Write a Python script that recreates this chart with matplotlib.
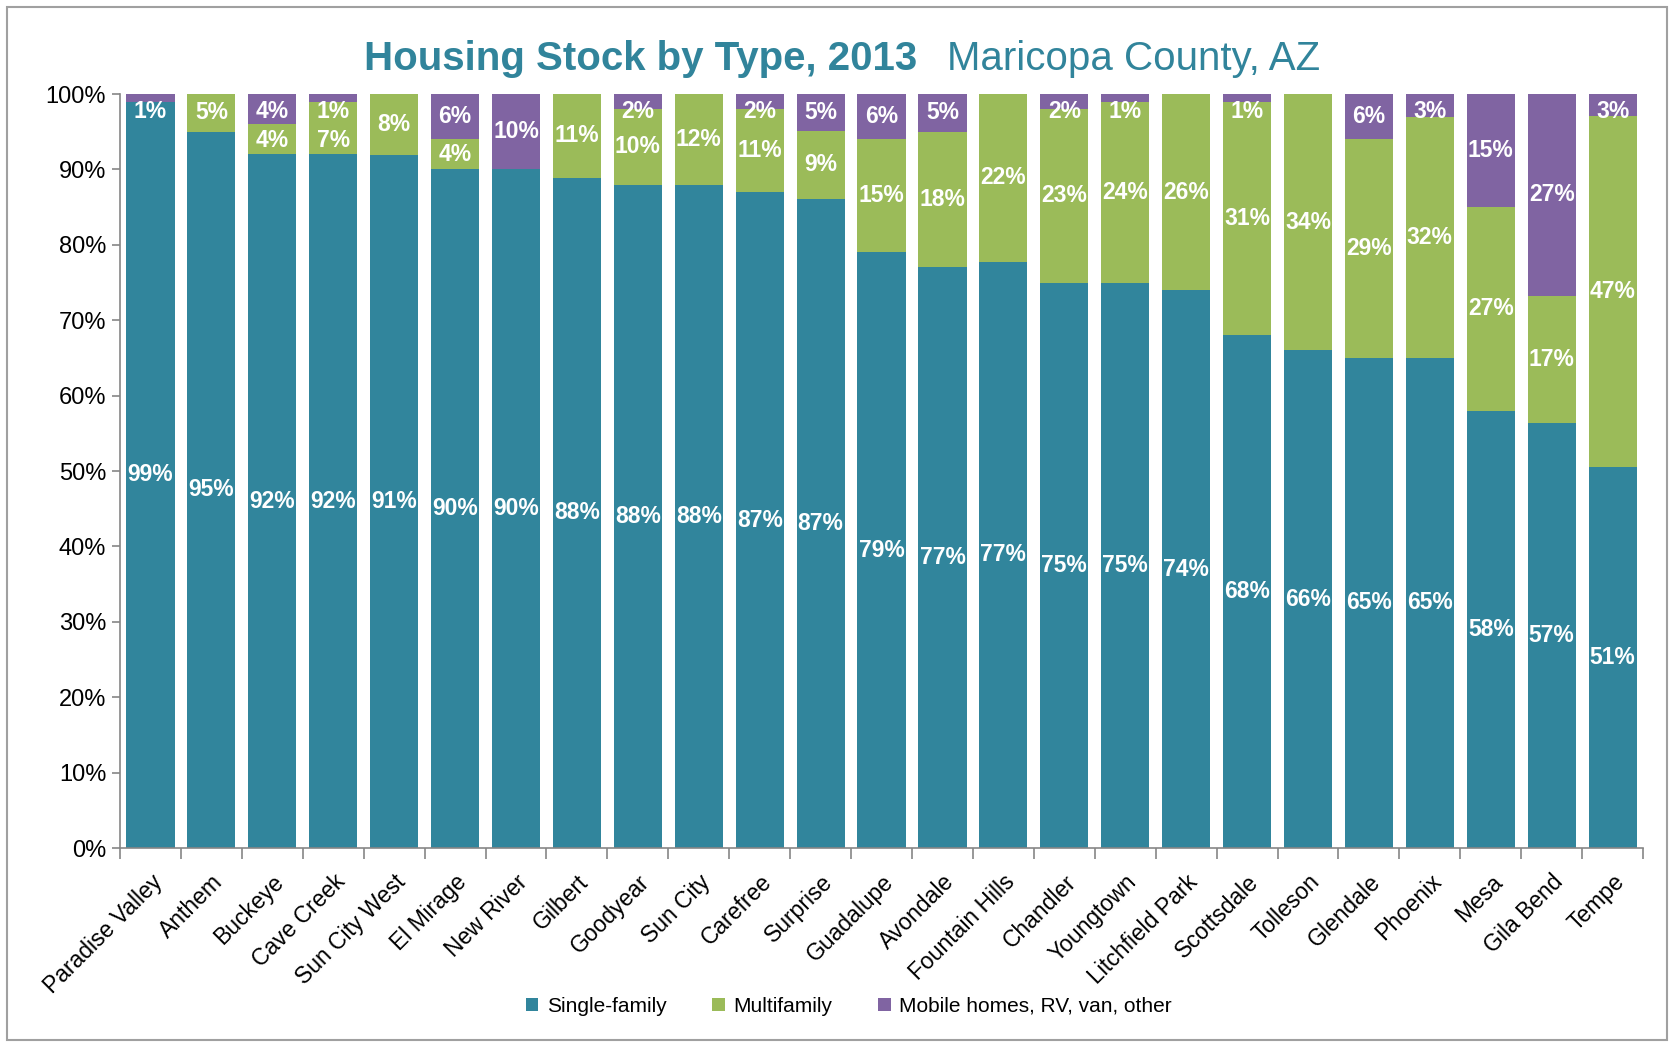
import numpy as np
import matplotlib
matplotlib.use("Agg")
import matplotlib.pyplot as plt
from matplotlib.patches import Rectangle, Patch
from matplotlib import font_manager

# ---- data (shares as shown in the data labels, %) --------------------------
places = ["Paradise Valley", "Anthem", "Buckeye", "Cave Creek", "Sun City West",
          "El Mirage", "New River", "Gilbert", "Goodyear", "Sun City", "Carefree",
          "Surprise", "Guadalupe", "Avondale", "Fountain Hills", "Chandler",
          "Youngtown", "Litchfield Park", "Scottsdale", "Tolleson", "Glendale",
          "Phoenix", "Mesa", "Gila Bend", "Tempe"]
single_family = [99, 95, 92, 92, 91, 90, 90, 88, 88, 88, 87, 87, 79, 77, 77,
                 75, 75, 74, 68, 66, 65, 65, 58, 57, 51]
multifamily = [0, 5, 4, 7, 8, 4, 0, 11, 10, 12, 11, 9, 15, 18, 22,
               23, 24, 26, 31, 34, 29, 32, 27, 17, 47]
mobile_other = [1, 0, 4, 1, 0, 6, 10, 0, 2, 0, 2, 5, 6, 5, 0,
                2, 1, 0, 1, 0, 6, 3, 15, 27, 3]
series_names = ["Single-family", "Multifamily", "Mobile homes, RV, van, other"]

TEAL = "#31859C"
GREEN = "#9BBB59"
PURPLE = "#8064A2"
TITLE_COLOR = "#31849B"
AXIS_GRAY = "#868686"

installed = {f.name for f in font_manager.fontManager.ttflist}
NARROW = "Liberation Sans Narrow" if "Liberation Sans Narrow" in installed else "Liberation Sans"
plt.rcParams["font.family"] = ["Liberation Sans", "DejaVu Sans"]

# 100% stacked: normalise each column
raw = np.array([single_family, multifamily, mobile_other], dtype=float)
shares = raw / raw.sum(axis=0) * 100

fig = plt.figure(figsize=(16.74, 10.45), dpi=100)
ax = fig.add_axes([0.0717, 0.1885, 0.9098, 0.7215])

x = np.arange(len(places))
bottoms = np.vstack([np.zeros(len(places)), np.cumsum(shares, axis=0)[:-1]])

# label positions, worked from the top segment down so thin segments
# don't get labels stacked on top of each other
label_y = np.full(raw.shape, np.nan)
for j in range(len(places)):
    limit = 97.7
    for i in range(raw.shape[0] - 1, -1, -1):
        if raw[i, j] == 0:
            continue
        y = min(bottoms[i, j] + shares[i, j] / 2, limit)
        label_y[i, j] = y
        limit = y - 3.9

for i, color in enumerate([TEAL, GREEN, PURPLE]):
    ax.bar(x, shares[i], bottom=bottoms[i], width=0.79, color=color, linewidth=0)
    for j in range(len(places)):
        if raw[i, j] == 0:
            continue
        ax.text(x[j], label_y[i, j], f"{int(raw[i, j])}%", ha="center", va="center",
                color="white", fontsize=16.5, fontweight="bold")

ax.set_xlim(-0.5, len(places) - 0.5)
ax.set_ylim(0, 100)
ax.set_yticks(np.arange(0, 101, 10))
ax.set_yticklabels([f"{v}%" for v in range(0, 101, 10)], fontsize=17)
ax.set_xticks(x)
ax.set_xticklabels(places, rotation=45, ha="right", rotation_mode="anchor",
                   fontsize=16.5)
ax.set_xticks(np.arange(-0.5, len(places)), minor=True)
ax.tick_params(axis="x", which="major", length=0, pad=16)
ax.tick_params(axis="x", which="minor", length=8, color=AXIS_GRAY, width=1.2)
ax.tick_params(axis="y", length=6, color=AXIS_GRAY, width=1.2, pad=4)
for s in ["top", "right"]:
    ax.spines[s].set_visible(False)
for s in ["left", "bottom"]:
    ax.spines[s].set_color(AXIS_GRAY)
    ax.spines[s].set_linewidth(1.2)

# title in two parts
fig.text(0.548, 0.944, "Housing Stock by Type, 2013", ha="right", va="center",
         fontsize=29, fontweight="bold", color=TITLE_COLOR, family=NARROW)
fig.text(0.566, 0.944, "Maricopa County, AZ", ha="left", va="center",
         fontsize=29, color=TITLE_COLOR, family=NARROW)

handles = [Patch(facecolor=c, label=n) for c, n in zip([TEAL, GREEN, PURPLE], series_names)]
fig.legend(handles=handles, loc="center", bbox_to_anchor=(0.507, 0.037), ncol=3,
           frameon=False, fontsize=15, handlelength=0.6, handleheight=0.6,
           handletextpad=0.4, columnspacing=2.2)

fig.patches.append(Rectangle((0.004, 0.005), 0.992, 0.988, transform=fig.transFigure,
                             fill=False, edgecolor="#A0A0A0", linewidth=1.5))

fig.savefig("out.png", dpi=100)
